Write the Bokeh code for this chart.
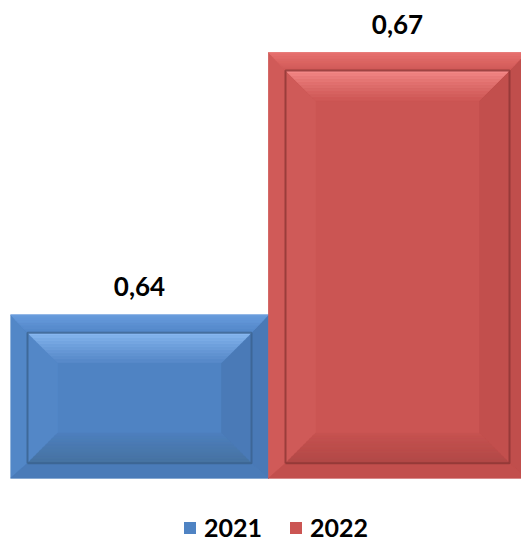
from bokeh.plotting import figure
from bokeh.models import ColumnDataSource, Range1d, Legend, LegendItem
from bokeh.core.properties import value
from bokeh.embed import file_html
from bokeh.resources import INLINE

# ---- data ----
years = ["2021", "2022"]
values = [0.64, 0.67]
value_labels = ["0,64", "0,67"]
axis_min = 0.6213          # value at which the bars start

# ---- styles ----
main_colors = ["#4f83c3", "#cb5553"]
outer_top = [("#6a9edf", "#5387c8"), ("#e8716f", "#d05a58")]
outer_left = ["#5287c7", "#d05a58"]
outer_right = ["#4979b6", "#c04e4c"]
outer_bottom = ["#4a7bb8", "#c24f4d"]
inner_top = [("#8cbcf4", "#5688c8"), ("#f78d8c", "#cd5755")]
inner_left = ["#5387c7", "#cf5a58"]
inner_right = ["#4a7ab7", "#c24f4d"]
inner_bottom = [("#4d7fbe", "#46729f"), ("#c65250", "#b04846")]
inner_edge = ["#3a628f", "#8c3634"]

FRAME_W, FRAME_H = 511, 534
BAR_PX = 258
Y_TOP, Y_LOW = 0.67504, 0.61394
x_end = FRAME_W / BAR_PX
sx = 1.0 / BAR_PX
sy = (Y_TOP - Y_LOW) / FRAME_H


def hexmix(c1, c2, t):
    a = [int(c1[i:i + 2], 16) for i in (1, 3, 5)]
    b = [int(c2[i:i + 2], 16) for i in (1, 3, 5)]
    return "#" + "".join("%02x" % round(a[k] + (b[k] - a[k]) * t) for k in range(3))


p = figure(width=521, height=542, output_backend="svg", toolbar_location=None,
           x_range=Range1d(0, x_end), y_range=Range1d(Y_LOW, Y_TOP),
           min_border_left=10, min_border_right=0, min_border_top=8, min_border_bottom=0)
p.axis.visible = False
p.grid.visible = False
p.outline_line_color = None
p.background_fill_color = "white"

centers = [i + 0.5 for i in range(len(years))]
src = ColumnDataSource(dict(x=centers, top=values, color=main_colors, year=years,
                            label=value_labels))
bars = p.vbar(x="x", top="top", bottom=axis_min, width=1.0, fill_color="color",
              line_color=None, source=src)

xs, ys, cols = [], [], []
edge_xs, edge_ys, edge_cols = [], [], []


def add(poly, c):
    xs.append([q[0] for q in poly])
    ys.append([q[1] for q in poly])
    cols.append(c)


N = 10
for i, (cx, v) in enumerate(zip(centers, values)):
    x0, x1, y0, y1 = cx - 0.5, cx + 0.5, axis_min, v
    ix0, ix1 = x0 + 17 * sx, x1 - 17 * sx
    iy0, iy1 = y0 + 15 * sy, y1 - 18 * sy
    d = 30
    jx0, jx1 = ix0 + d * sx, ix1 - d * sx
    jy0, jy1 = iy0 + d * sy, iy1 - d * sy
    # outer frame
    add([(x0, y0), (x0, y1), (ix0, iy1), (ix0, iy0)], outer_left[i])
    add([(x1, y0), (x1, y1), (ix1, iy1), (ix1, iy0)], outer_right[i])
    add([(x0, y0), (x1, y0), (ix1, iy0), (ix0, iy0)], outer_bottom[i])
    for k in range(N):
        t0, t1 = k / N, (k + 1) / N
        ya, yb = y1 + (iy1 - y1) * t0, y1 + (iy1 - y1) * t1
        xa0, xa1 = x0 + (ix0 - x0) * t0, x1 + (ix1 - x1) * t0
        xb0, xb1 = x0 + (ix0 - x0) * t1, x1 + (ix1 - x1) * t1
        add([(xa0, ya), (xa1, ya), (xb1, yb), (xb0, yb)],
            hexmix(outer_top[i][0], outer_top[i][1], (t0 + t1) / 2))
    # inner bevel
    add([(ix0, iy0), (ix0, iy1), (jx0, jy1), (jx0, jy0)], inner_left[i])
    add([(ix1, iy0), (ix1, iy1), (jx1, jy1), (jx1, jy0)], inner_right[i])
    for k in range(N):
        t0, t1 = k / N, (k + 1) / N
        # top (light)
        ya, yb = iy1 + (jy1 - iy1) * t0, iy1 + (jy1 - iy1) * t1
        xa0, xa1 = ix0 + (jx0 - ix0) * t0, ix1 + (jx1 - ix1) * t0
        xb0, xb1 = ix0 + (jx0 - ix0) * t1, ix1 + (jx1 - ix1) * t1
        add([(xa0, ya), (xa1, ya), (xb1, yb), (xb0, yb)],
            hexmix(inner_top[i][0], inner_top[i][1], ((t0 + t1) / 2) ** 0.8))
        # bottom (dark)
        ya, yb = jy0 + (iy0 - jy0) * t0, jy0 + (iy0 - jy0) * t1
        xa0, xa1 = jx0 + (ix0 - jx0) * t0, jx1 + (ix1 - jx1) * t0
        xb0, xb1 = jx0 + (ix0 - jx0) * t1, jx1 + (ix1 - jx1) * t1
        add([(xa0, ya), (xa1, ya), (xb1, yb), (xb0, yb)],
            hexmix(inner_bottom[i][0], inner_bottom[i][1], (t0 + t1) / 2))
    edge_xs.append([ix0, ix1, ix1, ix0, ix0])
    edge_ys.append([iy0, iy0, iy1, iy1, iy0])
    edge_cols.append(inner_edge[i])

p.patches(xs=xs, ys=ys, fill_color=cols, line_color=cols, line_width=0.6)
p.multi_line(xs=edge_xs, ys=edge_ys, line_color=edge_cols, line_width=2, line_alpha=0.8)

p.text(x="x", y="top", text="label", source=src, text_font=value("Lato"),
       text_font_style="bold", text_font_size="26px", text_align="center",
       text_baseline="alphabetic", y_offset=-28, text_color="black")

legend = Legend(items=[LegendItem(label=years[i], renderers=[bars], index=i)
                       for i in range(len(years))],
                location=(172, 0), orientation="horizontal",
                border_line_alpha=0, background_fill_alpha=0,
                label_text_font="Lato", label_text_font_style="bold",
                label_text_font_size="25px", label_text_color="black",
                glyph_width=15, glyph_height=15, label_standoff=7,
                spacing=26, padding=0, margin=0)
p.add_layout(legend)

open("out.html", "w").write(file_html(p, INLINE))
